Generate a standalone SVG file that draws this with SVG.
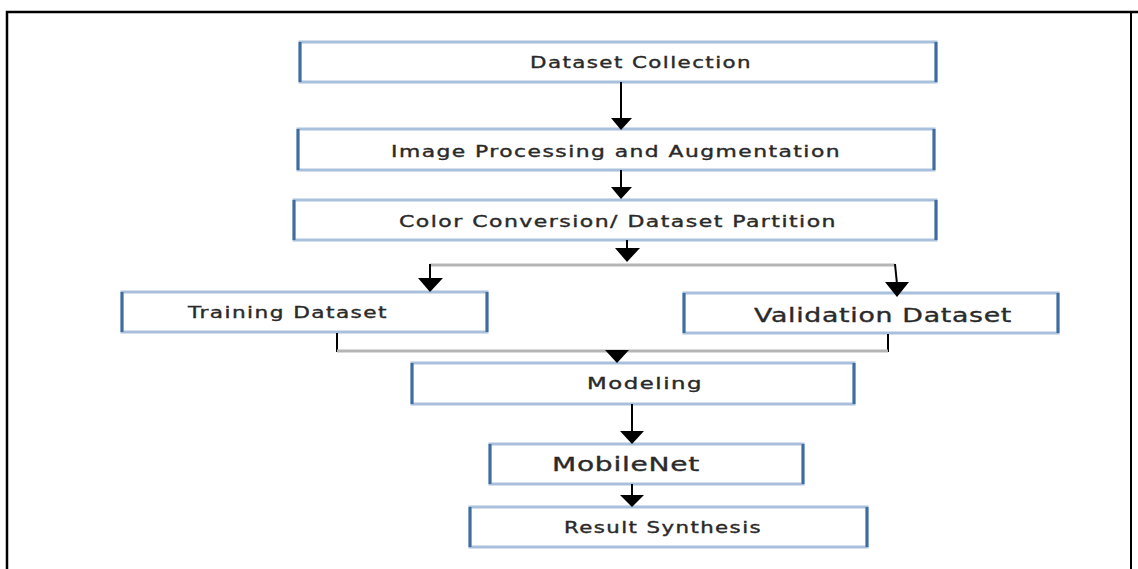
<svg xmlns="http://www.w3.org/2000/svg" width="1138" height="569" viewBox="0 0 1138 569">
<style>
.box{fill:#fff;stroke:#a9c0dc;stroke-width:3}
.side{stroke:#3f6c9f;stroke-width:3}
.t{font-family:"DejaVu Sans",sans-serif;font-size:15px;fill:#2a2a2a;stroke:#2a2a2a;stroke-width:0.35;text-anchor:middle;letter-spacing:1px}
.big{font-size:19px;letter-spacing:0.5px}
.ln{stroke:#000;stroke-width:2;fill:none}
.gl{stroke:#b5b5b5;stroke-width:3;fill:none}
.ah{fill:#000}
</style>
<rect width="1138" height="569" fill="#fff"/>
<g id="frame">
<path d="M7,569 V12 H1138" fill="none" stroke="#000" stroke-width="2.5"/>
<line x1="1131" y1="12" x2="1131" y2="569" stroke="#000" stroke-width="2"/>
</g>
<g id="n1">
<rect class="box" x="300" y="42" width="636" height="40"/>
<line class="side" x1="300" y1="42" x2="300" y2="82"/><line class="side" x1="936" y1="42" x2="936" y2="82"/>
<text class="t" x="641" y="68" textLength="222" lengthAdjust="spacingAndGlyphs">Dataset Collection</text>
</g>
<g id="n2">
<rect class="box" x="298" y="129" width="636" height="41"/>
<line class="side" x1="298" y1="129" x2="298" y2="170"/><line class="side" x1="934" y1="129" x2="934" y2="170"/>
<text class="t" x="616" y="157" textLength="450" lengthAdjust="spacingAndGlyphs">Image Processing and Augmentation</text>
</g>
<g id="n3">
<rect class="box" x="294" y="200" width="642" height="40"/>
<line class="side" x1="294" y1="200" x2="294" y2="240"/><line class="side" x1="936" y1="200" x2="936" y2="240"/>
<text class="t" x="618" y="227" textLength="438" lengthAdjust="spacingAndGlyphs">Color Conversion/ Dataset Partition</text>
</g>
<g id="n4">
<rect class="box" x="122" y="292" width="365" height="40"/>
<line class="side" x1="122" y1="292" x2="122" y2="332"/><line class="side" x1="487" y1="292" x2="487" y2="332"/>
<text class="t" x="288" y="318" textLength="200" lengthAdjust="spacingAndGlyphs">Training Dataset</text>
</g>
<g id="n5">
<rect class="box" x="684" y="293" width="374" height="40"/>
<line class="side" x1="684" y1="293" x2="684" y2="333"/><line class="side" x1="1058" y1="293" x2="1058" y2="333"/>
<text class="t big" x="883" y="322" textLength="258" lengthAdjust="spacingAndGlyphs">Validation Dataset</text>
</g>
<g id="n6">
<rect class="box" x="412" y="363" width="442" height="41"/>
<line class="side" x1="412" y1="363" x2="412" y2="404"/><line class="side" x1="854" y1="363" x2="854" y2="404"/>
<text class="t" x="645" y="389" textLength="116" lengthAdjust="spacingAndGlyphs">Modeling</text>
</g>
<g id="n7">
<rect class="box" x="490" y="444" width="313" height="40"/>
<line class="side" x1="490" y1="444" x2="490" y2="484"/><line class="side" x1="803" y1="444" x2="803" y2="484"/>
<text class="t big" x="626" y="471" textLength="148" lengthAdjust="spacingAndGlyphs">MobileNet</text>
</g>
<g id="n8">
<rect class="box" x="470" y="507" width="397" height="40"/>
<line class="side" x1="470" y1="507" x2="470" y2="547"/><line class="side" x1="867" y1="507" x2="867" y2="547"/>
<text class="t" x="663" y="533" textLength="198" lengthAdjust="spacingAndGlyphs">Result Synthesis</text>
</g>
<g id="connectors">
<line class="ln" x1="621" y1="82" x2="621" y2="119"/>
<polygon class="ah" points="611,118 632,118 621,130"/>
<line class="ln" x1="621" y1="170" x2="621" y2="188"/>
<polygon class="ah" points="611,187 632,187 621,199"/>
<line class="ln" x1="627" y1="240" x2="627" y2="249"/>
<polygon class="ah" points="615,248 640,248 627,262"/>
<line class="gl" x1="430" y1="265" x2="895" y2="265"/>
<line class="ln" x1="430" y1="264" x2="430" y2="280"/>
<polygon class="ah" points="418,278 443,278 430,292"/>
<line class="ln" x1="895" y1="264" x2="897" y2="284"/>
<polygon class="ah" points="885,282 909,282 897,297"/>
<line class="ln" x1="337" y1="333" x2="337" y2="352"/>
<line class="ln" x1="888" y1="334" x2="888" y2="352"/>
<line class="gl" x1="337" y1="351" x2="888" y2="351"/>
<polygon class="ah" points="605,350 629,350 617,363"/>
<line class="ln" x1="632" y1="404" x2="632" y2="432"/>
<polygon class="ah" points="620,431 644,431 632,444"/>
<line class="ln" x1="632" y1="484" x2="632" y2="496"/>
<polygon class="ah" points="620,495 644,495 632,507"/>
</g>
</svg>
